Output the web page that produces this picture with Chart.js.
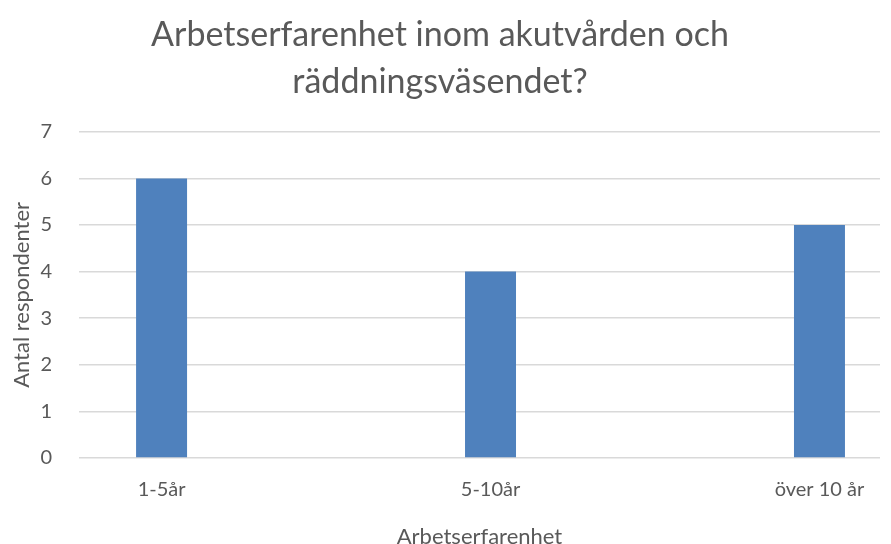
<!DOCTYPE html>
<html>
<head>
<meta charset="utf-8">
<script src="https://cdn.jsdelivr.net/npm/chart.js@4/dist/chart.umd.min.js"></script>
<style>
  html, body { margin: 0; padding: 0; background: #fff; }
  #wrap { width: 891px; height: 544px; }
</style>
</head>
<body>
<div id="wrap"><canvas id="chart"></canvas></div>
<script>
/* ─── data ─────────────────────────────── */
const categories = ['1-5år', '5-10år', 'över 10 år'];
const respondents = [6, 4, 5];
const yTicks = [0, 1, 2, 3, 4, 5, 6, 7];

const TEXT = '#595959';
const GRID = '#D9D9D9';
const FONT = 'Lato, Carlito, Calibri, sans-serif';

new Chart(document.getElementById('chart'), {
  type: 'bar',
  data: {
    datasets: [{
      data: categories.map((c, i) => ({ x: i, y: respondents[i] })),
      backgroundColor: '#4F81BD',
      borderWidth: 0,
      barPercentage: 0.155,
      categoryPercentage: 1,
    }],
  },
  options: {
    responsive: true,
    maintainAspectRatio: false,
    animation: false,
    layout: { padding: { left: 0, right: 11, top: 0, bottom: 0 } },
    plugins: {
      legend: { display: false },
      tooltip: { enabled: false },
      title: {
        display: true,
        text: ['Arbetserfarenhet inom akutvården och', 'räddningsväsendet?'],
        color: TEXT,
        font: { family: FONT, size: 34, weight: 'normal', lineHeight: 1.38 },
        padding: { top: 12, bottom: 26 },
      },
    },
    scales: {
      x: {
        type: 'linear',
        offset: false,
        min: -0.251,
        max: 2.184,
        grid: { display: false, drawTicks: false },
        border: { display: false },
        afterBuildTicks: (scale) => {
          scale.ticks = categories.map((c, i) => ({ value: i }));
        },
        afterFit: (scale) => { scale.height = 86; },
        ticks: {
          color: TEXT,
          font: { family: FONT, size: 20 },
          padding: 20,
          autoSkip: false,
          maxRotation: 0,
          callback: (v) => categories[v] ?? '',
        },
        title: {
          display: true,
          text: 'Arbetserfarenhet',
          color: TEXT,
          font: { family: FONT, size: 22, lineHeight: 1.0 },
          padding: { top: 0, bottom: -4 },
        },
      },
      y: {
        min: 0,
        max: 7,
        grid: { color: GRID, lineWidth: 1.5, drawTicks: false },
        border: { display: false },
        afterBuildTicks: (scale) => {
          scale.ticks = yTicks.map((v) => ({ value: v }));
        },
        afterFit: (scale) => { scale.width = 79; },
        ticks: {
          color: TEXT,
          font: { family: FONT, size: 20 },
          padding: 27,
        },
        title: {
          display: true,
          text: 'Antal respondenter',
          color: TEXT,
          font: { family: FONT, size: 22, lineHeight: 1.2 },
          padding: { top: 9, bottom: 0 },
        },
      },
    },
  },
});
</script>
</body>
</html>
